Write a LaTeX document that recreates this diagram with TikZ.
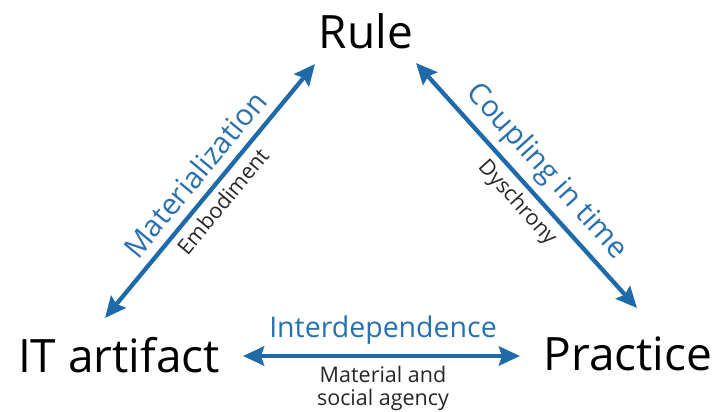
\documentclass[tikz,border=0pt]{standalone}
\usepackage{fontspec}
\setmainfont{Open Sans}
\usetikzlibrary{arrows.meta}
\definecolor{arrowblue}{RGB}{31,106,168}
\definecolor{labelblue}{RGB}{40,112,176}
\tikzset{
  big/.style={inner sep=0pt, anchor=base, font=\fontsize{46}{50}\selectfont, text=black},
  biarrow/.style={draw=arrowblue, line width=4.3pt,
    {Stealth[length=21pt, width=19pt, inset=3pt]}-{Stealth[length=21pt, width=19pt, inset=3pt]}},
  mainlab/.style={font=\fontsize{29.5}{33}\selectfont, text=labelblue, inner sep=0pt},
  sublab/.style={font=\fontsize{21.5}{23}\selectfont, text=black!85, inner sep=0pt, align=center}
}
\begin{document}
\begin{tikzpicture}[x=1pt, y=-1pt]
\useasboundingbox (0,0) rectangle (715,412);
\node[big] (rule) at (366,49) {Rule};
\node[big] (it) at (119,372) {IT artifact};
\node[big] (practice) at (628,370) {Practice};
\coordinate (itTop) at (105,318);
\coordinate (ruleLeft) at (315,64);
\coordinate (ruleRight) at (416,63);
\coordinate (practiceTop) at (637,308);
\coordinate (itRight) at (243,356);
\coordinate (practiceLeft) at (520,356);
\draw[biarrow] (itTop) -- (ruleLeft)
  node[mainlab, pos=0.51, sloped, anchor=south, yshift=9pt] (mat) {Materialization}
  node[sublab, pos=0.5, sloped, anchor=north, yshift=-6pt] (emb) {Embodiment};
\draw[biarrow] (ruleRight) -- (practiceTop)
  node[mainlab, pos=0.51, sloped, anchor=south, yshift=7pt] (coup) {Coupling in time}
  node[sublab, pos=0.52, sloped, anchor=north, yshift=-6pt] (dys) {Dyschrony};
\draw[biarrow] (itRight) -- (practiceLeft);
\node[mainlab, font=\fontsize{28.5}{32}\selectfont, anchor=base] (inter) at (383,337) {Interdependence};
\node[sublab, anchor=base] (mat1) at (383,382) {Material and};
\node[sublab, anchor=base] (mat2) at (383,405) {social agency};
\end{tikzpicture}
\end{document}
